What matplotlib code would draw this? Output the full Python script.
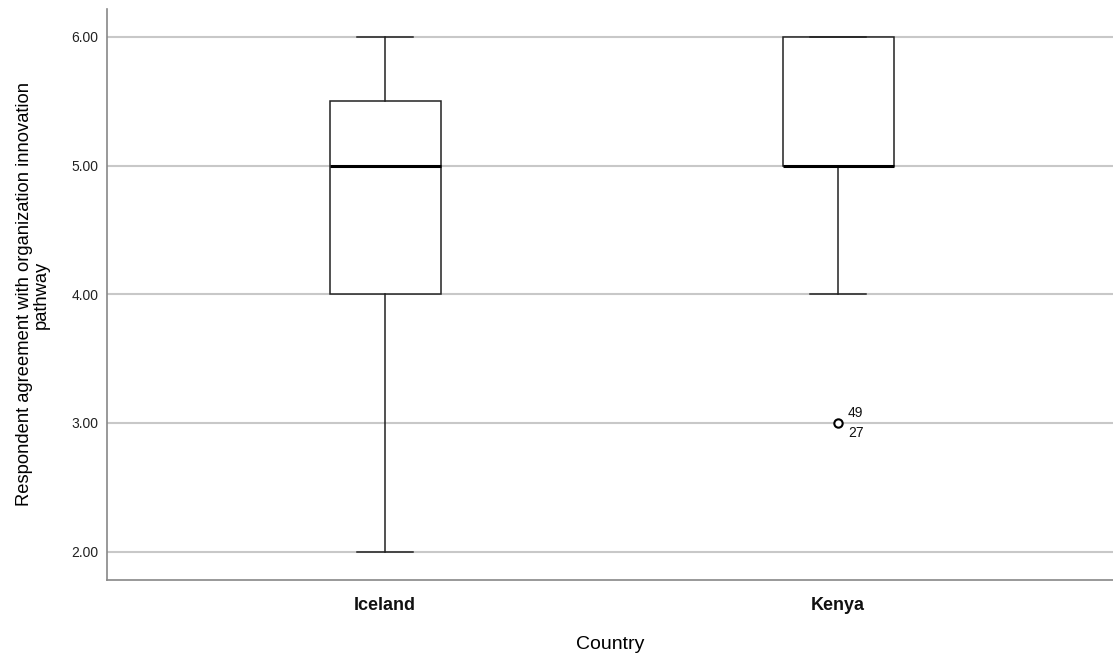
import matplotlib
matplotlib.use("Agg")
import matplotlib.pyplot as plt

plt.rcParams['font.family'] = ['Liberation Sans', 'DejaVu Sans']

countries = ["Iceland", "Kenya"]
whisker_low = [2.0, 4.0]
q1 = [4.0, 5.0]
median = [5.0, 5.0]
q3 = [5.5, 6.0]
whisker_high = [6.0, 6.0]
outliers = [[], [3.0]]
outlier_ids = [[], ["49", "27"]]

stats = []
for i, name in enumerate(countries):
    stats.append(dict(label=name, whislo=whisker_low[i], q1=q1[i], med=median[i],
                      q3=q3[i], whishi=whisker_high[i], fliers=outliers[i]))

fig = plt.figure(figsize=(11.13, 6.59), dpi=100)
ax = fig.add_axes([107 / 1113, 79 / 659, 1006 / 1113, 571 / 659])

positions = [1, 2]
ax.set_ylim(1.78, 6.217)
ax.set_xlim(0.386, 2.607)

for y in [2, 3, 4, 5, 6]:
    ax.axhline(y, color="#c8c8c8", lw=1.5, zorder=0)

line_col = "#222222"
ax.bxp(stats, positions=positions, widths=0.245, showfliers=True,
       patch_artist=True,
       boxprops=dict(facecolor="white", edgecolor=line_col, linewidth=1.1),
       medianprops=dict(color="black", linewidth=2.2),
       whiskerprops=dict(color=line_col, linewidth=1.1),
       capprops=dict(color=line_col, linewidth=1.1),
       capwidths=0.123,
       flierprops=dict(marker="o", markersize=6, markerfacecolor="white",
                       markeredgecolor="black", markeredgewidth=1.5),
       zorder=2)

# case labels next to the outlier
for i, pts in enumerate(outliers):
    for v in pts:
        ids = outlier_ids[i]
        ax.annotate(ids[0], (positions[i], v), xytext=(7, 7), textcoords="offset points",
                    fontsize=10, ha="left", va="center", color="#111111")
        ax.annotate(ids[1], (positions[i], v), xytext=(7, -7), textcoords="offset points",
                    fontsize=10, ha="left", va="center", color="#111111")

ax.set_yticks([2, 3, 4, 5, 6])
ax.set_yticklabels([f"{v:.2f}" for v in [2, 3, 4, 5, 6]], fontsize=10, color="#222222")
ax.set_xticks(positions)
ax.set_xticklabels(countries, fontsize=13, fontweight="bold", color="#111111")
ax.tick_params(axis="both", length=0)
ax.tick_params(axis="y", pad=6)
ax.tick_params(axis="x", pad=12)

for side in ["top", "right"]:
    ax.spines[side].set_visible(False)
for side in ["left", "bottom"]:
    ax.spines[side].set_color("#888888")
    ax.spines[side].set_linewidth(1.2)

ax.set_xlabel("Country", fontsize=14, color="#000000", labelpad=16)
ax.set_ylabel("Respondent agreement with organization innovation\npathway",
              fontsize=13.2, color="#000000", linespacing=0.95, labelpad=16)

fig.savefig("out.png", dpi=100, facecolor="white")
